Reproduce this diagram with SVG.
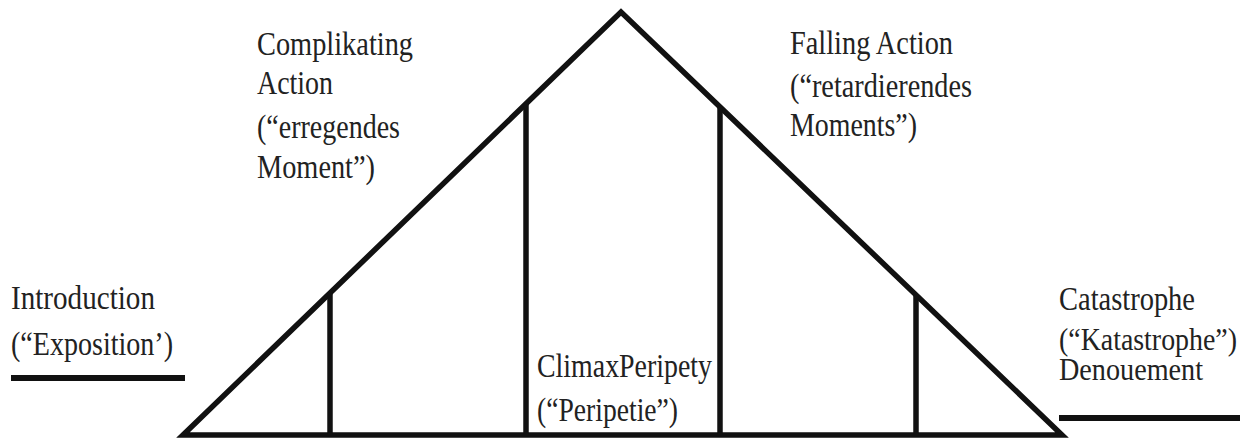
<svg xmlns="http://www.w3.org/2000/svg" width="1247" height="442" viewBox="0 0 1247 442">
<style>
.ln{stroke:#111;stroke-width:5.5;fill:none;stroke-linejoin:miter}
.bar{stroke:#111;stroke-width:6}
text{font-family:"Liberation Serif","Times New Roman",serif;font-size:34px;fill:#222}
.tight{font-size:31px}
</style>
<rect width="1247" height="442" fill="#fff"/>
<g id="connectors">
<polygon class="ln" points="183,435 621,12 1062,435"/>
<line class="ln" x1="330" y1="293" x2="330" y2="435"/>
<line class="ln" x1="526" y1="104" x2="526" y2="435"/>
<line class="ln" x1="720" y1="107" x2="720" y2="435"/>
<line class="ln" x1="916" y1="295" x2="916" y2="435"/>
<line class="bar" x1="11" y1="378" x2="185" y2="378"/>
<line class="bar" x1="1059" y1="418" x2="1240" y2="418"/>
</g>
<g id="introduction">
<text x="11" y="309" textLength="144" lengthAdjust="spacingAndGlyphs">Introduction</text>
<text x="11" y="355" textLength="162" lengthAdjust="spacingAndGlyphs">(“Exposition’)</text>
</g>
<g id="complikating">
<text x="257" y="55" textLength="156" lengthAdjust="spacingAndGlyphs">Complikating</text>
<text x="257" y="94" textLength="76" lengthAdjust="spacingAndGlyphs">Action</text>
<text x="257" y="138" textLength="143" lengthAdjust="spacingAndGlyphs">(“erregendes</text>
<text x="257" y="178" textLength="118" lengthAdjust="spacingAndGlyphs">Moment”)</text>
</g>
<g id="climax">
<text x="537" y="377" textLength="175" lengthAdjust="spacingAndGlyphs">ClimaxPeripety</text>
<text x="537" y="421" textLength="141" lengthAdjust="spacingAndGlyphs">(“Peripetie”)</text>
</g>
<g id="falling">
<text x="790" y="54" textLength="163" lengthAdjust="spacingAndGlyphs">Falling Action</text>
<text x="790" y="97" textLength="182" lengthAdjust="spacingAndGlyphs">(“retardierendes</text>
<text x="790" y="136" textLength="127" lengthAdjust="spacingAndGlyphs">Moments”)</text>
</g>
<g id="catastrophe">
<text x="1059" y="310" textLength="136" lengthAdjust="spacingAndGlyphs">Catastrophe</text>
<text class="tight" x="1059" y="350" textLength="178" lengthAdjust="spacingAndGlyphs">(“Katastrophe”)</text>
<text class="tight" x="1059" y="380" textLength="144" lengthAdjust="spacingAndGlyphs">Denouement</text>
</g>
</svg>
